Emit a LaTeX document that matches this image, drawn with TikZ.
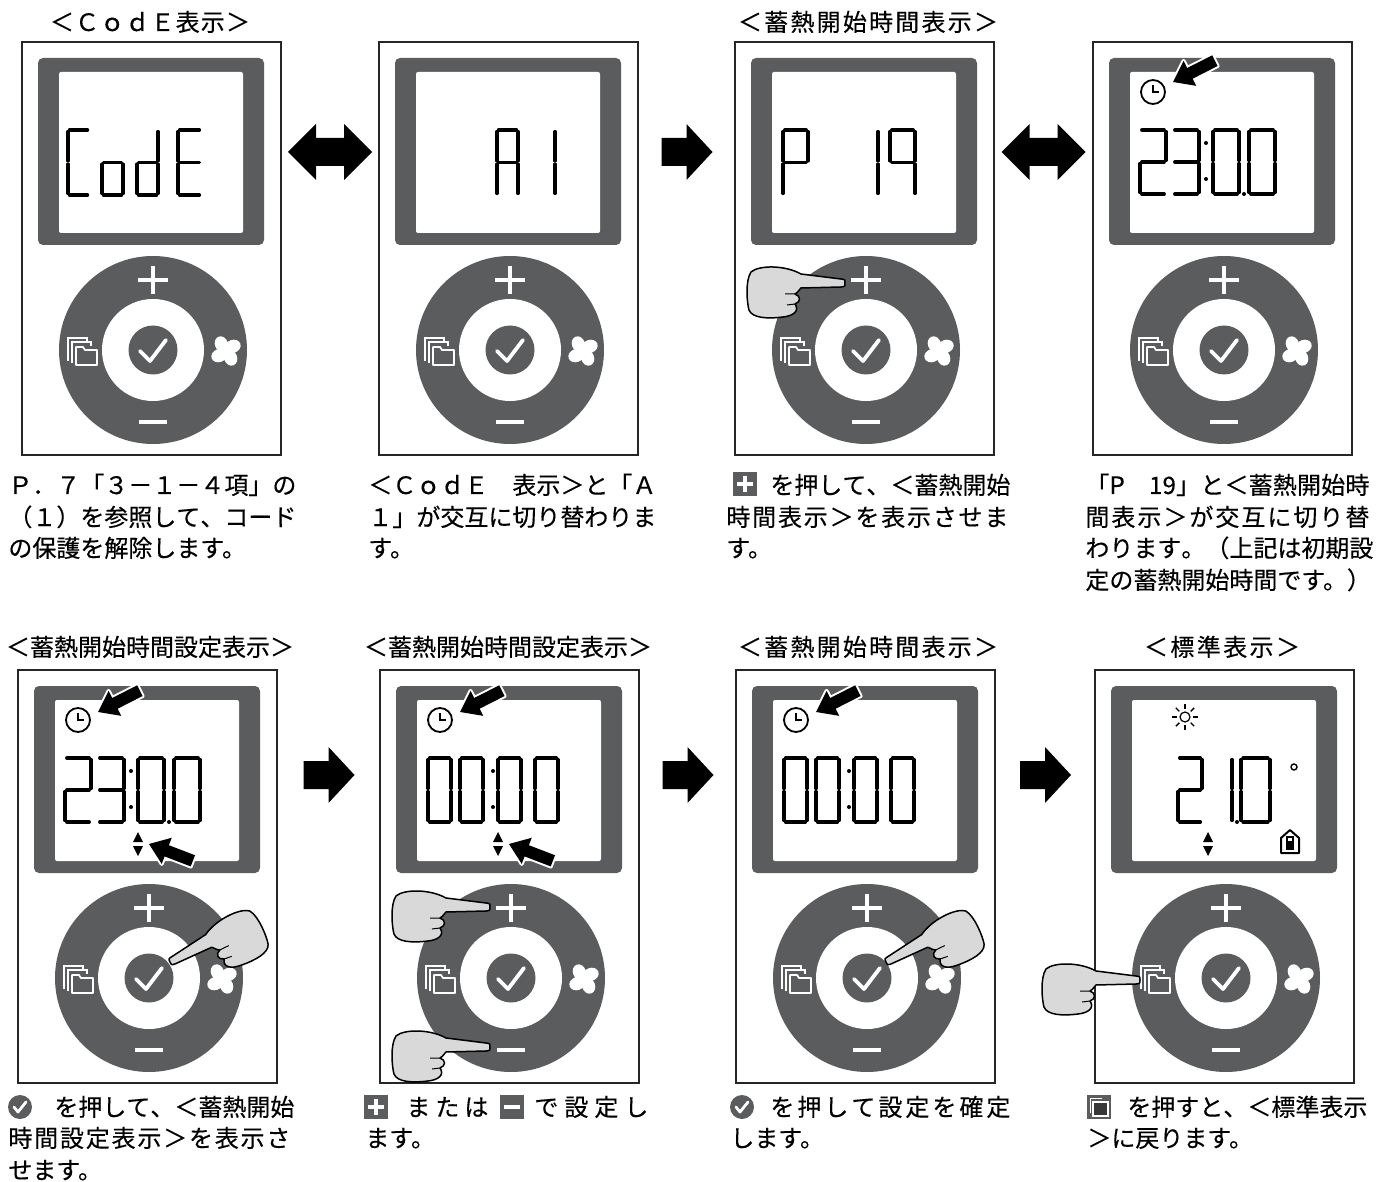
\documentclass[tikz,border=0pt]{standalone}
\usepackage{fontspec}
\setmainfont{Noto Sans CJK JP}[FakeBold=0.35]
\usetikzlibrary{calc}
\definecolor{dial}{HTML}{5B5C5E}
\definecolor{skin}{HTML}{D9D9D9}

% spread the characters of one line evenly over a given width
\makeatletter
\newcommand\spreadline[2]{\hbox to #1{\let\sp@sep\relax\@tfor\sp@c:=#2\do{\sp@sep\sp@c\let\sp@sep\hfil}}}
\makeatother

% seven-segment elements in a unit cell (y grows downwards)
\expandafter\def\csname sg-a\endcsname{(0.07,0)--(0.93,0)}
\expandafter\def\csname sg-b\endcsname{(1,0.025)--(1,0.475)}
\expandafter\def\csname sg-c\endcsname{(1,0.525)--(1,0.975)}
\expandafter\def\csname sg-d\endcsname{(0.07,1)--(0.93,1)}
\expandafter\def\csname sg-e\endcsname{(0,0.525)--(0,0.975)}
\expandafter\def\csname sg-f\endcsname{(0,0.025)--(0,0.475)}
\expandafter\def\csname sg-g\endcsname{(0.07,0.5)--(0.93,0.5)}
\newcommand\lcdchar[5]{%
  \begin{scope}[shift={(#1,#2)},xscale=#3,yscale=#4]
    \foreach \s in {#5}{\edef\sgtmp{\noexpand\draw[segline] \csname sg-\s\endcsname;}\sgtmp}
  \end{scope}}
\newcommand\lcdcolon[2]{\fill (#1,#2+13) circle[radius=2]; \fill (#1,#2+49) circle[radius=2];}

\tikzset{
  frame/.style={draw=black!85, line width=0.75pt, minimum width=129.5pt,
    minimum height=206.5pt, anchor=north west, inner sep=0, outer sep=0},
  segline/.style={line width=1.7pt, line cap=round},
  txt/.style={font=\fontsize{12pt}{14pt}\selectfont, inner sep=0, anchor=base west},
  ttl/.style={font=\fontsize{12pt}{14pt}\selectfont, inner sep=0, anchor=base},
  icon/.style={white, line width=2pt},
  % pointing hand, finger tip at the origin, pointing right
  hand/.pic={
    \filldraw[fill=skin, draw=black, line width=0.75pt, line join=round]
      (0,0) .. controls (0,-3.5) .. (-4,-4) -- (-44,-9)
      .. controls (-60,-18) and (-86,-18) .. (-94,-11)
      .. controls (-100,-2) and (-98,20) .. (-96,27)
      .. controls (-93,35) and (-78,36) .. (-62,34)
      .. controls (-52,33) and (-45,28) .. (-50,21)
      .. controls (-44,19) and (-44,13) .. (-50,11)
      .. controls (-46,9) and (-46,6) .. (-44,5)
      -- (-4,4) .. controls (0,3.5) .. (0,0) -- cycle;
    \draw[line width=0.5pt] (-50,11) -- (-60,11) (-50,21) -- (-58,22);
  },
  % indicator arrow, tip at the origin, pointing right
  ptr/.pic={
    \draw[white, line width=2pt, line join=round]
      (0,0)--(-19,-14)--(-19,-6)--(-47,-6)--(-47,6)--(-19,6)--(-19,14)--cycle;
    \fill[black]
      (0,0)--(-19,-14)--(-19,-6)--(-47,-6)--(-47,6)--(-19,6)--(-19,14)--cycle;
  },
  clock/.pic={
    \draw[line width=0.9pt] (0,0) circle[radius=12];
    \draw[line width=0.9pt] (0,-7)--(0,0)--(6,0);
  },
  updown/.pic={
    \fill (-5,-2)--(5,-2)--(0,-12)--cycle;
    \fill (-5,2)--(5,2)--(0,12)--cycle;
  },
  sun/.pic={
    \draw[line width=0.6pt] (0,0) circle[radius=5];
    \foreach \a in {0,45,...,315}{\draw[line width=0.7pt] (\a:8)--(\a:13);}
  },
  house/.pic={
    \draw[line width=1pt, line join=round] (-9,11)--(-9,-4)--(0,-12)--(9,-4)--(9,11)--cycle;
    \draw[line width=0.7pt] (-3,8)--(-3,-5)--(3,-5)--(3,8);
    \fill (-2,-1) rectangle (2,8);
  },
  folder/.pic={
    \draw[white, line width=0.6pt] (-16,10)--(-16,-13)--(3,-13)--(3,-9);
    \draw[white, line width=0.6pt] (-12,12)--(-12,-9)--(7,-9)--(7,-5);
    \filldraw[fill=dial, draw=white, line width=0.9pt, line join=round]
      (-8,14)--(-8,-4)--(-1,-4)--(1,-1)--(13,-1)--(13,14)--cycle;
  },
  fan/.pic={
    \fill[white] (0,0) circle[radius=6];
    \foreach \a in {20,110,200,290}{
      \fill[white, rotate=\a] (8,-2) ellipse[x radius=8, y radius=6.5];}
  },
  plusk/.pic={
    \fill[dial] (-12,-12) rectangle (12,12);
    \draw[white, line width=1.6pt] (-8,0)--(8,0) (0,-8)--(0,8);
  },
  minusk/.pic={
    \fill[dial] (-12,-12) rectangle (12,12);
    \draw[white, line width=1.6pt] (-8,0)--(8,0);
  },
  checkk/.pic={
    \fill[dial] (0,0) circle[radius=12];
    \draw[white, line width=1.4pt, line cap=round, line join=round] (-6,0)--(-2,5)--(6,-5);
  },
  folderk/.pic={
    \fill[dial] (-12,-12) rectangle (12,12);
    \draw[white, line width=0.5pt] (-9,6)--(-9,-9)--(3,-9);
    \filldraw[fill=dial!60!black, draw=white, line width=0.7pt] (-6,9)--(-6,-5)--(9,-5)--(9,9)--cycle;
  },
  rarrow/.pic={
    \fill (-25,-14)--(0,-14)--(0,-28)--(26,0)--(0,28)--(0,14)--(-25,14)--cycle;
  },
  darrow/.pic={
    \fill (-42,0)--(-14,-28)--(-14,-14)--(14,-14)--(14,-28)--(42,0)--(14,28)--(14,14)--(-14,14)--(-14,28)--cycle;
  },
}

% one remote-control unit: frame, display bezel, display and dial
\newcommand\device[3]{%
  \node[frame] (#1) at (#2,#3) {};
  \begin{scope}[shift={(#1.north west)}]
    \fill[dial, rounded corners=2.5pt] (16,16) rectangle (242,203);
    \fill[white, rounded corners=1pt] (37,30) rectangle (221,191);
    \fill[dial] (131,308) circle[radius=94];
    \fill[white] (131,308) circle[radius=51];
    \fill[dial] (131,308) circle[radius=24.5];
    \draw[white, line width=1.9pt, line cap=round, line join=round] (118,309)--(128,319)--(144,298);
    \draw[icon] (116,238)--(146,238) (131,224)--(131,252);
    \draw[icon] (117,380)--(145,380);
    \pic at (62,309) {folder};
    \pic at (204,309) {fan};
  \end{scope}}

\begin{document}
\begin{tikzpicture}[x=0.5pt,y=-0.5pt]
\useasboundingbox (0,0) rectangle (1383,1182);
\fill[white] (0,0) rectangle (1383,1182);

% ---------- first row ----------
\device{p1}{22}{42}
\device{p2}{379}{42}
\device{p3}{735}{42}
\device{p4}{1093}{42}

\begin{scope}[shift={(p1.north west)}]
  \lcdchar{46}{88}{21}{65}{a,f,e,d}
  \lcdchar{80}{88}{21}{65}{g,c,d,e}
  \lcdchar{115}{88}{21}{65}{b,c,d,e,g}
  \lcdchar{156}{88}{23}{65}{a,f,g,e,d}
\end{scope}
\begin{scope}[shift={(p2.north west)}]
  \lcdchar{118}{88}{21}{65}{a,b,c,e,f,g}
  \lcdchar{154}{88}{22}{65}{b,c}
\end{scope}
\begin{scope}[shift={(p3.north west)}]
  \lcdchar{48}{88}{25}{65}{a,b,f,g,e}
  \lcdchar{118}{88}{25}{65}{b,c}
  \lcdchar{155}{88}{25}{65}{a,b,c,f,g}
  \pic at (110,241) {hand};
\end{scope}
\begin{scope}[shift={(p4.north west)}]
  \lcdchar{47}{88}{26}{64}{a,b,g,e,d}
  \lcdchar{80}{88}{26}{64}{a,b,g,c,d}
  \lcdcolon{113}{88}
  \lcdchar{120}{88}{26}{64}{a,b,c,d,e,f}
  \fill (151,152) circle[radius=2];
  \lcdchar{156}{88}{26}{64}{a,b,c,d,e,f}
  \pic at (60,50) {clock};
  \pic[rotate=207] at (80,40) {ptr};
\end{scope}

\coordinate (a12) at ($(p1.north east)!0.5!(p2.north west)+(0,110)$);
\coordinate (a23) at ($(p2.north east)!0.5!(p3.north west)+(0,110)$);
\coordinate (a34) at ($(p3.north east)!0.5!(p4.north west)+(0,110)$);
\pic at (a12) {darrow};
\pic at (a23) {rarrow};
\pic at (a34) {darrow};

% ---------- second row ----------
\device{p5}{18}{670}
\device{p6}{380}{670}
\device{p7}{736}{670}
\device{p8}{1095}{670}

\begin{scope}[shift={(p5.north west)}]
  \lcdchar{47}{88}{26}{64}{a,b,g,e,d}
  \lcdchar{80}{88}{26}{64}{a,b,g,c,d}
  \lcdcolon{113}{88}
  \lcdchar{120}{88}{26}{64}{a,b,c,d,e,f}
  \fill (151,152) circle[radius=2];
  \lcdchar{156}{88}{26}{64}{a,b,c,d,e,f}
  \pic at (60,50) {clock};
  \pic[rotate=207] at (80,42) {ptr};
  \pic at (120,174) {updown};
  \pic[rotate=159] at (131,174) {ptr};
  \pic[rotate=26,xscale=-1] at (152,292) {hand};
\end{scope}
\begin{scope}[shift={(p6.north west)}]
  \lcdchar{48}{88}{23}{64}{a,b,c,d,e,f}
  \lcdchar{80}{88}{23}{64}{a,b,c,d,e,f}
  \lcdcolon{113}{88}
  \lcdchar{118}{88}{23}{64}{a,b,c,d,e,f}
  \lcdchar{155}{88}{23}{64}{a,b,c,d,e,f}
  \pic at (60,50) {clock};
  \pic[rotate=207] at (80,42) {ptr};
  \pic at (118,174) {updown};
  \pic[rotate=159] at (129,174) {ptr};
  \pic at (110,237) {hand};
  \pic at (110,377) {hand};
\end{scope}
\begin{scope}[shift={(p7.north west)}]
  \lcdchar{48}{88}{23}{64}{a,b,c,d,e,f}
  \lcdchar{80}{88}{23}{64}{a,b,c,d,e,f}
  \lcdcolon{113}{88}
  \lcdchar{118}{88}{23}{64}{a,b,c,d,e,f}
  \lcdchar{155}{88}{23}{64}{a,b,c,d,e,f}
  \pic at (60,50) {clock};
  \pic[rotate=207] at (80,42) {ptr};
  \pic[rotate=26,xscale=-1] at (150,292) {hand};
\end{scope}
\begin{scope}[shift={(p8.north west)}]
  \pic at (90,47) {sun};
  \lcdchar{83}{88}{24}{64}{a,b,g,e,d}
  \lcdchar{113}{88}{24}{64}{b,c}
  \fill (142,152) circle[radius=2];
  \lcdchar{146}{88}{29}{64}{a,b,c,d,e,f}
  \draw[line width=0.7pt] (199,97) circle[radius=3];
  \pic at (113,174) {updown};
  \pic at (195,172) {house};
  \pic at (45,310) {hand};
\end{scope}

\coordinate (a56) at ($(p5.north east)!0.5!(p6.north west)+(0,105)$);
\coordinate (a67) at ($(p6.north east)!0.5!(p7.north west)+(0,105)$);
\coordinate (a78) at ($(p7.north east)!0.5!(p8.north west)+(0,105)$);
\pic at (a56) {rarrow};
\pic at (a67) {rarrow};
\pic at (a78) {rarrow};

% ---------- headings ----------
\node[ttl] (h1) at (150,31) {\spreadline{100pt}{＜ＣｏｄＥ表示＞}};
\node[ttl] (h3) at (868,31) {\spreadline{130pt}{＜蓄熱開始時間表示＞}};
\node[ttl] (h5) at (150,656) {＜蓄熱開始時間設定表示＞};
\node[ttl] (h6) at (508,656) {＜蓄熱開始時間設定表示＞};
\node[ttl] (h7) at (868,656) {\spreadline{130pt}{＜蓄熱開始時間表示＞}};
\node[ttl] (h8) at (1222,656) {\spreadline{78pt}{＜標準表示＞}};

% ---------- captions, first row ----------
\node[txt] (c1a) at (8,494) {\spreadline{141pt}{Ｐ．７「３－１－４項」の}};
\node[txt] (c1b) at (8,526) {\spreadline{141pt}{（１）を参照して、コード}};
\node[txt] (c1c) at (8,557) {の保護を解除します。};

\node[txt] (c2a) at (368,494) {\spreadline{140pt}{＜ＣｏｄＥ　表示＞と「Ａ}};
\node[txt] (c2b) at (368,526) {\spreadline{140pt}{１」が交互に切り替わりま}};
\node[txt] (c2c) at (368,557) {す。};

\pic at (745,484) {plusk};
\node[txt] (c3a) at (770,494) {\spreadline{119pt}{を押して、＜蓄熱開始}};
\node[txt] (c3b) at (726,526) {\spreadline{141pt}{時間表示＞を表示させま}};
\node[txt] (c3c) at (726,557) {す。};

\node[txt] (c4a) at (1085,494) {\spreadline{142pt}{「P　19」と＜蓄熱開始時}};
\node[txt] (c4b) at (1085,526) {\spreadline{142pt}{間表示＞が交互に切り替}};
\node[txt] (c4c) at (1085,557) {\spreadline{142pt}{わります。（上記は初期設}};
\node[txt] (c4d) at (1085,589) {定の蓄熱開始時間です。）};

% ---------- captions, second row ----------
\pic at (20,1107) {checkk};
\node[txt] (c5a) at (54,1116) {\spreadline{118.5pt}{を押して、＜蓄熱開始}};
\node[txt] (c5b) at (8,1147) {\spreadline{141pt}{時間設定表示＞を表示さ}};
\node[txt] (c5c) at (8,1179) {せます。};

\pic at (376,1107) {plusk};
\node[txt] (c6a) at (406,1116) {\spreadline{41pt}{または}};
\pic at (512,1107) {minusk};
\node[txt] (c6b) at (534,1116) {\spreadline{57pt}{で設定し}};
\node[txt] (c6c) at (365,1147) {ます。};

\pic at (742,1107) {checkk};
\node[txt] (c7a) at (770,1116) {\spreadline{120pt}{を押して設定を確定}};
\node[txt] (c7b) at (730,1147) {します。};

\pic at (1099,1107) {folderk};
\node[txt] (c8a) at (1127,1116) {\spreadline{120pt}{を押すと、＜標準表示}};
\node[txt] (c8b) at (1087,1147) {＞に戻ります。};
\end{tikzpicture}
\end{document}
